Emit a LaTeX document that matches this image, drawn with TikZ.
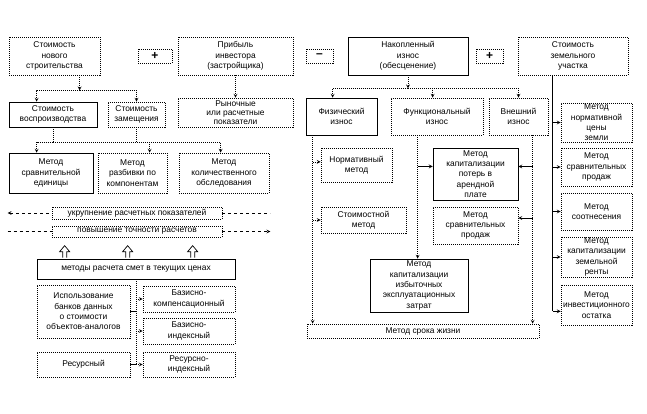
\documentclass[tikz,border=0pt]{standalone}
\usepackage{fontspec}
\setmainfont{Liberation Sans}
\usetikzlibrary{calc}

\begin{document}
\begin{tikzpicture}[>=stealth,x=1pt,y=-1pt,
        dbox/.style={draw,dash pattern=on 1pt off 1pt,line width=0.7pt,align=center,inner sep=0.5pt,font=\fontsize{8.4}{10.4}\selectfont},
        sbox/.style={dbox,solid},
        sign/.style={dbox,font=\bfseries\fontsize{12}{12}\selectfont},
        con/.style={dash pattern=on 1pt off 1pt,line width=0.7pt},
        lin/.style={line width=0.7pt}]
        \useasboundingbox (0,0) rectangle (647,413);
        \node[dbox,minimum width=91pt,minimum height=38pt] (nov) at (54.5,56) {Стоимость\\нового\\строительства};
        \node[sign,minimum width=34pt,minimum height=14pt] (plusa) at (155,56) {+};
        \node[dbox,minimum width=115pt,minimum height=38pt] (prib) at (235.5,56) {Прибыль\\инвестора\\(застройщика)};
        \node[sbox,minimum width=88pt,minimum height=25pt] (vosp) at (53,114.5) {Стоимость\\воспроизводства};
        \node[dbox,minimum width=57pt,minimum height=25pt] (zam) at (136.5,114.5) {Стоимость\\замещения};
        \node[dbox,minimum width=115pt,minimum height=29pt,font=\fontsize{8.4}{9}\selectfont] (ryn) at (235.5,112.5) {Рыночные\\или расчетные\\показатели};
        \node[sbox,minimum width=84pt,minimum height=40pt] (sred) at (51,173) {Метод\\сравнительной\\единицы};
        \node[dbox,minimum width=69pt,minimum height=40pt] (razb) at (132.5,173) {Метод\\разбивки по\\компонентам};
        \node[dbox,minimum width=90pt,minimum height=40pt] (kol) at (224,173) {Метод\\количественного\\обследования};
        \node[dbox,minimum width=170pt,minimum height=12pt] (ukr) at (137,213) {укрупнение расчетных показателей};
        \node[dbox,minimum width=170pt,minimum height=11pt] (pov) at (137,231.5) {повышение точности расчетов};
        \node[sbox,minimum width=198pt,minimum height=20pt] (smet) at (136,269) {методы расчета смет в текущих ценах};
        \node[dbox,minimum width=93pt,minimum height=53pt] (bank) at (83.5,311.5) {Использование\\банков данных\\о стоимости\\объектов-аналогов};
        \node[dbox,minimum width=92pt,minimum height=26pt] (bkomp) at (189,299) {Базисно-\\компенсационный};
        \node[dbox,minimum width=92pt,minimum height=26pt] (bind) at (189,331) {Базисно-\\индексный};
        \node[dbox,minimum width=93pt,minimum height=25pt] (res) at (83.5,364.5) {Ресурсный};
        \node[dbox,minimum width=92pt,minimum height=25pt] (resind) at (189,364.5) {Ресурсно-\\индексный};
        \node[sign,minimum width=27pt,minimum height=14pt] (minus) at (319.5,56) {--};
        \node[sbox,minimum width=120pt,minimum height=38pt] (nak) at (408,56) {Накопленный\\износ\\(обесценение)};
        \node[sign,minimum width=27pt,minimum height=14pt] (plusb) at (489.5,56) {+};
        \node[dbox,minimum width=110pt,minimum height=38pt] (zem) at (573,56) {Стоимость\\земельного\\участка};
        \node[sbox,minimum width=71pt,minimum height=37pt] (fiz) at (341.5,116.5) {Физический\\износ};
        \node[dbox,minimum width=92pt,minimum height=37pt] (fun) at (437,116.5) {Функциональный\\износ};
        \node[dbox,minimum width=59pt,minimum height=37pt] (vne) at (518.5,116.5) {Внешний\\износ};
        \node[dbox,minimum width=71pt,minimum height=34pt] (norm) at (356.5,165) {Нормативный\\метод};
        \node[dbox,minimum width=85pt,minimum height=26pt] (stm) at (363.5,220) {Стоимостной\\метод};
        \node[sbox,minimum width=85pt,minimum height=52pt] (kpot) at (475.5,174) {Метод\\капитализации\\потерь в\\арендной\\плате};
        \node[dbox,minimum width=85pt,minimum height=37pt] (sprod) at (475.5,225.5) {Метод\\сравнительных\\продаж};
        \node[sbox,minimum width=98pt,minimum height=53pt] (kizb) at (419,285.5) {Метод\\капитализации\\избыточных\\эксплуатационных\\затрат};
        \node[dbox,minimum width=232pt,minimum height=14pt] (srok) at (423,331) {Метод срока жизни};
        \node[dbox,minimum width=71pt,minimum height=39pt] (ncz) at (596.5,122.5) {Метод\\нормативной\\цены\\земли};
        \node[dbox,minimum width=71pt,minimum height=38pt] (zsp) at (596.5,167) {Метод\\сравнительных\\продаж};
        \node[dbox,minimum width=71pt,minimum height=37pt] (sootn) at (596.5,211.5) {Метод\\соотнесения};
        \node[dbox,minimum width=71pt,minimum height=36pt] (renta) at (596.5,257) {Метод\\капитализации\\земельной\\ренты};
        \node[dbox,minimum width=71pt,minimum height=40pt] (ost) at (596.5,305) {Метод\\инвестиционного\\остатка};
        \coordinate (j1) at ($(nov.south west)+(71,15)$);
        \draw[con,->] (nov.south west) ++(71,0) -- (j1);
        \draw[con,->] (j1) -| ($(vosp.north west)+(28,0)$);
        \draw[con,->] (j1) -| (zam.north);
        \draw[con,->] (prib.south) -- (ryn.north);
        \coordinate (j2) at ($(vosp.south)+(0,15)$);
        \draw[con] (vosp.south) -- (j2);
        \draw[con] (zam.south) -- (zam.south |- j2);
        \draw[con,->] (j2) -| ($(sred.north west)+(28,0)$);
        \draw[con,->] (j2) -| ($(razb.north west)+(52,0)$);
        \draw[con,->] (j2) -| ($(kol.north west)+(42,0)$);
        \coordinate (ukrL) at ($(ukr.west)+(-44,0)$);
        \coordinate (ukrR) at ($(ukr.east)+(48,0)$);
        \coordinate (povL) at ($(pov.west)+(-44,0)$);
        \coordinate (povR) at ($(pov.east)+(48,0)$);
        \draw[lin,dashed,<-] (ukrL) -- (ukr.west);
        \draw[lin,dashed] (ukr.east) -- (ukrR);
        \draw[lin,dashed] (povL) -- (pov.west);
        \draw[lin,dashed,->] (pov.east) -- (povR);
        \foreach \dx in {28,91,156}
        \draw[lin] ($(smet.north west)+(\dx-2,-1)$) -- ++(0,-6) -- ++(-3,0) -- ++(5,-6) -- ++(5,6) -- ++(-3,0) -- ++(0,6);
        \coordinate (j3) at (smet.south |- resind.west);
        \draw[con] (smet.south) -- (j3);
        \draw[con,->] (smet.south |- bkomp.west) -- (bkomp.west);
        \draw[con,->] (smet.south |- bind.west) -- (bind.west);
        \draw[con,->] (j3) -- (resind.west);
        \draw[lin] (bank.east) -- (bank.east -| smet.south);
        \draw[lin] (res.east) -- (res.east -| smet.south);
        \coordinate (j4) at ($(nak.south)+(0,13)$);
        \draw[con,->] (nak.south) -- (j4);
        \draw[con,->] (j4) -| ($(fiz.north west)+(27,0)$);
        \draw[con,->] (j4) -| ($(fun.north west)+(42,0)$);
        \draw[con,->] (j4) -| (vne.north);
        \coordinate (f1) at ($(fiz.south west)+(7,0)$);
        \draw[con,->] (f1) -- (f1 |- srok.north);
        \draw[con,->] (f1 |- norm.175) -- (norm.175);
        \draw[con,->] (f1 |- stm.west) -- (stm.west);
        \coordinate (f2) at ($(fun.south west)+(27,0)$);
        \draw[con,->] (f2) -- (f2 |- kizb.north);
        \draw[lin,->] (f2 |- kpot.170) -- (kpot.170);
        \coordinate (f3) at ($(vne.south west)+(44,0)$);
        \draw[con,->] (f3) -- (f3 |- srok.north);
        \draw[lin,->] (f3 |- kpot.10) -- (kpot.10);
        \draw[lin,->] (f3 |- sprod.10) -- (sprod.10);
        \coordinate (f4) at ($(zem.south west)+(35,0)$);
        \draw[lin] (f4) -- (f4 |- ost.190);
        \foreach \n in {ncz,zsp,sootn,renta}
        \draw[lin,->] (f4 |- \n.west) -- (\n.west);
        \draw[lin,->] (f4 |- ost.190) -- (ost.190);
\end{tikzpicture}
\end{document}
